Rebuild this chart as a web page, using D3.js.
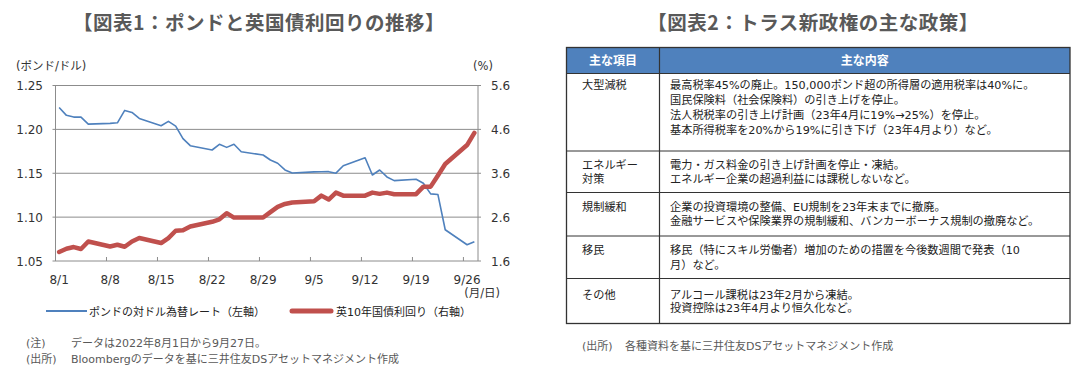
<!DOCTYPE html>
<html><head><meta charset="utf-8">
<script src="https://cdn.jsdelivr.net/npm/d3@7"></script>
<style>body{margin:0;background:#fff}svg{display:block}</style>
</head><body><svg id="c" width="1087" height="376"></svg>
<script>
// ---------- data ----------
const dates = ["2022-08-01","2022-08-02","2022-08-03","2022-08-04","2022-08-05",
"2022-08-08","2022-08-09","2022-08-10","2022-08-11","2022-08-12",
"2022-08-15","2022-08-16","2022-08-17","2022-08-18","2022-08-19",
"2022-08-22","2022-08-23","2022-08-24","2022-08-25","2022-08-26",
"2022-08-29","2022-08-30","2022-08-31","2022-09-01","2022-09-02",
"2022-09-05","2022-09-06","2022-09-07","2022-09-08","2022-09-09",
"2022-09-12","2022-09-13","2022-09-14","2022-09-15","2022-09-16",
"2022-09-19","2022-09-20","2022-09-21","2022-09-22","2022-09-23",
"2022-09-26","2022-09-27"];
const gbpusd = [1.225,1.216,1.214,1.214,1.206,
1.2068,1.2075,1.2216,1.2193,1.2125,
1.2041,1.2091,1.2037,1.1895,1.1814,
1.1765,1.183,1.1795,1.183,1.1745,
1.1708,1.1651,1.1614,1.1538,1.1503,
1.1516,1.1517,1.1518,1.1501,1.1586,
1.1677,1.148,1.1537,1.1458,1.1416,
1.1432,1.1386,1.1265,1.1257,1.0856,
1.0685,1.072];
const gilt10y = [1.805,1.88,1.918,1.873,2.045,
1.932,1.97,1.925,2.045,2.123,
2.009,2.123,2.289,2.30,2.386,
2.493,2.55,2.69,2.59,2.59,
2.59,2.714,2.834,2.90,2.934,
2.96,3.09,3.0,3.159,3.09,
3.09,3.159,3.13,3.159,3.123,
3.123,3.295,3.295,3.55,3.81,
4.243,4.52];
const leftTicks = [1.05,1.10,1.15,1.20,1.25];
const rightTicks = [1.6,2.6,3.6,4.6,5.6];
const xTickDates = ["2022-08-01","2022-08-08","2022-08-15","2022-08-22","2022-08-29","2022-09-05","2022-09-12","2022-09-19","2022-09-26"];
const xTickLabels = ["8/1","8/8","8/15","8/22","8/29","9/5","9/12","9/19","9/26"];
const xDomain = ["2022-08-01","2022-09-28"];

const title1 = "【図表1：ポンドと英国債利回りの推移】";
const title2 = "【図表2：トラス新政権の主な政策】";
const legendLabels = ["ポンドの対ドル為替レート（左軸）","英10年国債利回り（右軸）"];
const notesLeft = [["(注)","データは2022年8月1日から9月27日。"],["(出所)","Bloombergのデータを基に三井住友DSアセットマネジメント作成"]];
const noteRight = ["(出所)","各種資料を基に三井住友DSアセットマネジメント作成"];

const tableHeaders = ["主な項目","主な内容"];
const policyItems = [["大型減税"],["エネルギー","対策"],["規制緩和"],["移民"],["その他"]];
const policyDetails = [
 ["最高税率45%の廃止。150,000ポンド超の所得層の適用税率は40%に。","国民保険料（社会保険料）の引き上げを停止。","法人税税率の引き上げ計画（23年4月に19%→25%）を停止。","基本所得税率を20%から19%に引き下げ（23年4月より）など。"],
 ["電力・ガス料金の引き上げ計画を停止・凍結。","エネルギー企業の超過利益には課税しないなど。"],
 ["企業の投資環境の整備、EU規制を23年末までに撤廃。","金融サービスや保険業界の規制緩和、バンカーボーナス規制の撤廃など。"],
 ["移民（特にスキル労働者）増加のための措置を今後数週間で発表（10","月）など。"],
 ["アルコール課税は23年2月から凍結。","投資控除は23年4月より恒久化など。"]
];

// ---------- layout ----------
const svg = d3.select("#c");
const JP = "'DejaVu Sans','Noto Sans CJK JP',sans-serif";
const plot = {l:55.5, r:478, t:85.5, b:261};
const parse = d3.timeParse("%Y-%m-%d");
const half = 12*3600*1000;

const x = d3.scaleTime().domain(xDomain.map(parse)).range([plot.l, plot.r]);
const yL = d3.scaleLinear().domain([1.05,1.25]).range([plot.b, plot.t]);
const yR = d3.scaleLinear().domain([1.6,5.6]).range([plot.b, plot.t]);

// titles
[[title1,259],[title2,813]].forEach(([s,cx])=>{
  svg.append("text").attr("x",cx).attr("y",29.5).attr("text-anchor","middle")
    .attr("font-family","'Noto Sans CJK JP',sans-serif").attr("font-weight","bold")
    .attr("font-size",19.5).attr("letter-spacing",0.5).attr("fill","#595959").text(s);
});

// gridlines
const g = svg.append("g");
g.selectAll("line.grid").data(leftTicks).join("line")
  .attr("x1",plot.l-3).attr("x2",plot.r+3)
  .attr("y1",d=>yL(d)).attr("y2",d=>yL(d))
  .attr("stroke","#8c8c8c").attr("stroke-width",1);
g.append("line").attr("x1",plot.l).attr("x2",plot.l).attr("y1",plot.t).attr("y2",plot.b).attr("stroke","#8c8c8c");
g.append("line").attr("x1",plot.r).attr("x2",plot.r).attr("y1",plot.t).attr("y2",plot.b).attr("stroke","#8c8c8c");
g.selectAll("line.xt").data(xTickDates).join("line")
  .attr("x1",d=>x(parse(d))).attr("x2",d=>x(parse(d)))
  .attr("y1",plot.b).attr("y2",plot.b-4).attr("stroke","#8c8c8c");

// axis labels
g.selectAll("text.yl").data(leftTicks).join("text")
  .attr("x",43).attr("y",d=>yL(d)+4.5).attr("text-anchor","end")
  .attr("font-family","'DejaVu Sans',sans-serif").attr("font-size",12).attr("fill","#333")
  .text(d=>d3.format(".2f")(d));
g.selectAll("text.yr").data(rightTicks).join("text")
  .attr("x",491).attr("y",d=>yR(d)+4.5).attr("text-anchor","start")
  .attr("font-family","'DejaVu Sans',sans-serif").attr("font-size",12).attr("fill","#333")
  .text(d=>d3.format(".1f")(d));
g.selectAll("text.xl").data(xTickDates).join("text")
  .attr("x",(d)=>x(new Date(+parse(d)+half))).attr("y",284).attr("text-anchor","middle")
  .attr("font-family","'DejaVu Sans',sans-serif").attr("font-size",12).attr("fill","#333")
  .text((d,i)=>xTickLabels[i]);
svg.append("text").attr("x",16).attr("y",70).attr("font-family",JP).attr("font-size",11.5).attr("fill","#333").text("(ポンド/ドル)");
svg.append("text").attr("x",473).attr("y",70).attr("font-family",JP).attr("font-size",11.5).attr("fill","#333").text("(%)");
svg.append("text").attr("x",500).attr("y",297).attr("text-anchor","end").attr("font-family",JP).attr("font-size",11.5).attr("fill","#333").text("(月/日)");

// lines
const pts = dates.map((d,i)=>({t:new Date(+parse(d)+half), a:gbpusd[i], b:gilt10y[i]}));
svg.append("path").datum(pts)
  .attr("d",d3.line().x(d=>x(d.t)).y(d=>yL(d.a)))
  .attr("fill","none").attr("stroke","#4F81BD").attr("stroke-width",1.6).attr("stroke-linejoin","round");
svg.append("path").datum(pts)
  .attr("d",d3.line().x(d=>x(d.t)).y(d=>yR(d.b)))
  .attr("fill","none").attr("stroke","#C0504D").attr("stroke-width",4.5).attr("stroke-linejoin","round").attr("stroke-linecap","round");

// legend
svg.append("line").attr("x1",46).attr("x2",87).attr("y1",311).attr("y2",311).attr("stroke","#4F81BD").attr("stroke-width",2);
svg.append("text").attr("x",89).attr("y",315.5).attr("font-family",JP).attr("font-size",11).attr("fill","#222").text(legendLabels[0]);
svg.append("line").attr("x1",292).attr("x2",331).attr("y1",311).attr("y2",311).attr("stroke","#C0504D").attr("stroke-width",5).attr("stroke-linecap","round");
svg.append("text").attr("x",336).attr("y",315.5).attr("font-family",JP).attr("font-size",11).attr("fill","#222").text(legendLabels[1]);

// notes
notesLeft.forEach((n,i)=>{
  svg.append("text").attr("x",26).attr("y",347+i*16).attr("font-family",JP).attr("font-size",11).attr("fill","#595959").text(n[0]);
  svg.append("text").attr("x",71).attr("y",347+i*16).attr("font-family",JP).attr("font-size",11).attr("fill","#595959").text(n[1]);
});
svg.append("text").attr("x",582).attr("y",350).attr("font-family",JP).attr("font-size",11).attr("fill","#595959").text(noteRight[0]);
svg.append("text").attr("x",625).attr("y",350).attr("font-family",JP).attr("font-size",11).attr("fill","#595959").text(noteRight[1]);

// table
const tb = {l:566.5, r:1070, t:47.5, h:73.5, div:659.5};
const rowB = [73.5,151,192.5,236,278.5,323.5];
const firstLine = [15.5,18,18.5,18,20];
const lineH = [15,13.5,13.5,14.5,13.5];
const t = svg.append("g");
t.append("rect").attr("x",tb.l).attr("y",tb.t).attr("width",tb.r-tb.l).attr("height",tb.h-tb.t).attr("fill","#4F81BD");
t.selectAll("text.h").data(tableHeaders).join("text")
  .attr("x",(d,i)=> i===0 ? (tb.l+tb.div)/2 : (tb.div+tb.r)/2).attr("y",64.5)
  .attr("text-anchor","middle").attr("font-family","'Noto Sans CJK JP',sans-serif").attr("font-weight","bold")
  .attr("font-size",12).attr("fill","#fff").text(d=>d);
policyItems.forEach((item,r)=>{
  const top = rowB[r];
  item.forEach((s,k)=>t.append("text").attr("x",582).attr("y",top+firstLine[r]+k*lineH[r])
    .attr("font-family",JP).attr("font-size",11.2).attr("fill","#222").text(s));
  policyDetails[r].forEach((s,k)=>t.append("text").attr("x",670).attr("y",top+firstLine[r]+k*lineH[r])
    .attr("font-family",JP).attr("font-size",11.2).attr("fill","#222").text(s));
});
rowB.slice(1,-1).forEach(y=>t.append("line").attr("x1",tb.l).attr("x2",tb.r).attr("y1",y).attr("y2",y).attr("stroke","#333").attr("stroke-width",1));
t.append("line").attr("x1",tb.div).attr("x2",tb.div).attr("y1",tb.t).attr("y2",rowB[rowB.length-1]).attr("stroke","#333").attr("stroke-width",1.2);
t.append("line").attr("x1",tb.l).attr("x2",tb.r).attr("y1",tb.h).attr("y2",tb.h).attr("stroke","#333").attr("stroke-width",1);
t.append("rect").attr("x",tb.l).attr("y",tb.t).attr("width",tb.r-tb.l).attr("height",rowB[rowB.length-1]-tb.t)
  .attr("fill","none").attr("stroke","#333").attr("stroke-width",1.3);
</script></body></html>
